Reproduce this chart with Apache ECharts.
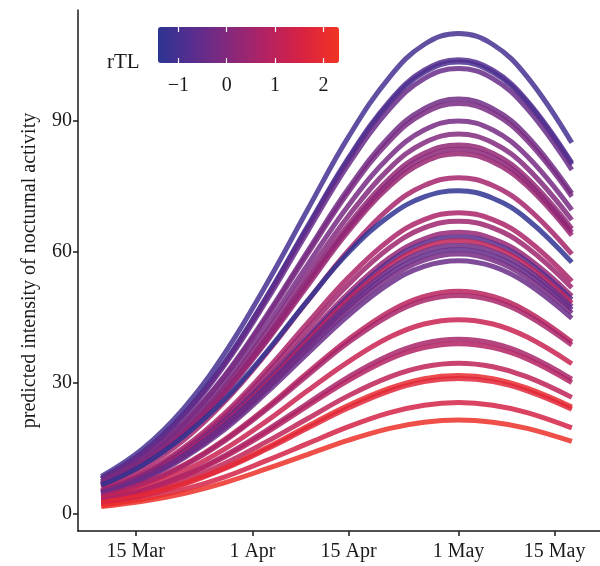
<!DOCTYPE html>
<html>
<head>
<meta charset="utf-8">
<script src="https://cdn.jsdelivr.net/npm/echarts@6/dist/echarts.min.js"></script>
<style>
  html, body { margin: 0; padding: 0; background: #fff; }
  #chart { width: 600px; height: 566px; }
</style>
</head>
<body>
<div id="chart"></div>
<script>
// prediction days (day of year, 10 Mar .. 17 May)
const days = [69, 75, 81, 87, 93, 99, 105, 111, 116, 121, 126, 131, 137.5];

// axis ticks
const tickDays = [74, 91, 105, 121, 135];
const tickLabels = ['15 Mar', '1 Apr', '15 Apr', '1 May', '15 May'];
const yTicks = [0, 30, 60, 90];
const rtlTicks = [-1, 0, 1, 2];

// rTL of each individual (colour)
const rtl = [
    -1.0, -0.75, -0.9, -0.45, -0.3, -0.15, -0.2, 0.0,
    0.25, 0.15, 0.35, 0.55, -1.35, 0.65, 0.45, 0.3,
    -0.65, 1.05, -0.3, -0.5, -0.2, -0.4, 0.95, 0.6,
    1.25, 0.6, 0.8, 1.05, 2.0, 1.8, 1.45, 2.15
];

// predicted intensity of nocturnal activity, one row per individual
const activity = [
    [8.6, 14.9, 24.2, 36.9, 52.5, 69.6, 86.4, 100.1, 107.5, 110, 107.5, 100.1, 85.0],
    [8.1, 14.0, 22.9, 34.8, 49.6, 65.8, 81.6, 94.6, 101.6, 104, 101.6, 94.6, 80.4],
    [8.1, 14.0, 22.8, 34.7, 49.4, 65.5, 81.2, 94.2, 101.1, 103.5, 101.1, 94.2, 80.0],
    [8.0, 13.8, 22.4, 34.2, 48.7, 64.6, 80.1, 92.8, 99.7, 102, 99.7, 92.8, 78.8],
    [7.4, 12.8, 20.9, 31.8, 45.3, 60.1, 74.6, 86.5, 92.8, 95, 92.8, 86.5, 73.4],
    [7.3, 12.7, 20.7, 31.5, 44.8, 59.5, 73.8, 85.5, 91.8, 94, 91.8, 85.5, 72.7],
    [7.0, 12.2, 19.8, 30.2, 42.9, 57.0, 70.7, 81.9, 87.9, 90, 87.9, 81.9, 69.6],
    [6.8, 11.7, 19.1, 29.1, 41.5, 55.1, 68.3, 79.2, 85.0, 87, 85.0, 79.2, 67.3],
    [6.6, 11.4, 18.6, 28.3, 40.3, 53.5, 66.3, 76.9, 82.6, 84.5, 82.6, 76.9, 65.3],
    [6.5, 11.3, 18.4, 28.0, 39.8, 52.9, 65.5, 76.0, 81.6, 83.5, 81.6, 76.0, 64.5],
    [6.4, 11.1, 18.2, 27.6, 39.4, 52.2, 64.8, 75.1, 80.6, 82.5, 80.6, 75.1, 63.8],
    [6.0, 10.4, 16.9, 25.8, 36.7, 48.7, 60.4, 70.1, 75.2, 77, 75.2, 70.1, 59.5],
    [6.6, 11.2, 17.8, 26.3, 37.0, 48.8, 59.9, 68.3, 72.6, 74, 72.3, 67.5, 57.6],
    [5.4, 9.3, 15.2, 23.1, 32.9, 43.7, 54.2, 62.8, 67.4, 69, 67.4, 62.8, 53.3],
    [5.2, 9.0, 14.7, 22.4, 32.0, 42.4, 52.6, 61.0, 65.5, 67, 65.5, 61.0, 51.8],
    [5.0, 8.7, 14.2, 21.6, 30.8, 40.8, 50.6, 58.7, 63.0, 64.5, 63.0, 58.7, 49.9],
    [5.0, 8.6, 14.0, 21.3, 30.3, 40.2, 49.8, 57.8, 62.0, 63.5, 62.0, 57.8, 49.1],
    [4.9, 8.4, 13.8, 20.9, 29.8, 39.6, 49.1, 56.9, 61.1, 62.5, 61.1, 56.9, 48.3],
    [4.8, 8.3, 13.5, 20.6, 29.3, 38.9, 48.3, 56.0, 60.1, 61.5, 60.1, 56.0, 47.5],
    [4.7, 8.2, 13.3, 20.3, 28.9, 38.3, 47.5, 55.1, 59.1, 60.5, 59.1, 55.1, 46.8],
    [4.6, 8.0, 13.1, 19.9, 28.4, 37.7, 46.7, 54.1, 58.1, 59.5, 58.1, 54.1, 46.0],
    [4.5, 7.8, 12.8, 19.4, 27.7, 36.7, 45.5, 52.8, 56.7, 58, 56.7, 52.8, 44.8],
    [4.0, 6.9, 11.2, 17.1, 24.3, 32.3, 40.0, 46.4, 49.8, 51, 49.8, 46.4, 39.4],
    [3.9, 6.8, 11.0, 16.8, 23.9, 31.7, 39.3, 45.5, 48.9, 50, 48.9, 45.5, 38.7],
    [3.5, 6.0, 9.8, 14.9, 21.2, 28.2, 34.9, 40.5, 43.5, 44.5, 43.5, 40.5, 34.4],
    [3.1, 5.4, 8.8, 13.4, 19.1, 25.3, 31.4, 36.4, 39.1, 40, 39.1, 36.4, 30.9],
    [3.0, 5.3, 8.6, 13.1, 18.6, 24.7, 30.6, 35.5, 38.1, 39, 38.1, 35.5, 30.1],
    [2.7, 4.7, 7.6, 11.6, 16.5, 21.8, 27.1, 31.4, 33.7, 34.5, 33.7, 31.4, 26.7],
    [2.5, 4.3, 7.0, 10.6, 15.1, 20.1, 24.9, 28.8, 31.0, 31.7, 31.0, 28.8, 24.5],
    [2.4, 4.2, 6.8, 10.4, 14.8, 19.6, 24.3, 28.2, 30.3, 31, 30.3, 28.2, 24.0],
    [2.0, 3.4, 5.6, 8.5, 12.2, 16.1, 20.0, 23.2, 24.9, 25.5, 24.9, 23.2, 19.7],
    [1.7, 2.9, 4.7, 7.2, 10.3, 13.6, 16.9, 19.6, 21.0, 21.5, 21.0, 19.6, 16.6]
];

// colour scale for rTL
const rtlMin = -1.42, rtlMax = 2.32;
const colorStops = ['#2c3492', '#5a2d8e', '#87287b', '#b42262', '#d92242', '#f13422'];

function hexToRgb(h) {
    return [1, 3, 5].map(i => parseInt(h.substr(i, 2), 16));
}

function rtlColor(v) {
    const t = Math.max(0, Math.min(1, (v - rtlMin) / (rtlMax - rtlMin))) * (colorStops.length - 1);
    const i = Math.min(Math.floor(t), colorStops.length - 2);
    const f = t - i;
    const a = hexToRgb(colorStops[i]), b = hexToRgb(colorStops[i + 1]);
    const c = a.map((x, k) => Math.round(x + (b[k] - x) * f));
    return 'rgb(' + c.join(',') + ')';
}

const font = 'Liberation Serif';
const textColor = '#1a1a1a';

const series = activity.map((vals, i) => ({
    type: 'line',
    xAxisIndex: 0,
    yAxisIndex: 0,
    data: vals.map((v, j) => [days[j], v]),
    smooth: 0.4,
    showSymbol: false,
    silent: true,
    lineStyle: { width: 5, color: rtlColor(rtl[i]), opacity: 0.85, cap: 'butt' }
}));

const chart = echarts.init(document.getElementById('chart'));

chart.setOption({
    animation: false,
    backgroundColor: '#fff',
    title: {
        text: 'rTL',
        left: 107,
        top: 52,
        padding: 0,
        textStyle: { fontFamily: font, fontSize: 21, fontWeight: 'normal', color: textColor }
    },
    grid: [
        { left: 78, right: 0, top: 10, bottom: 35 },
        { left: 158, width: 181, top: 27, height: 36 }
    ],
    visualMap: {
        type: 'continuous',
        orient: 'horizontal',
        seriesIndex: [],
        min: rtlMin,
        max: rtlMax,
        left: 158,
        top: 27,
        padding: 0,
        itemWidth: 36,
        itemHeight: 181,
        calculable: false,
        hoverLink: false,
        text: null,
        showLabel: false,
        inRange: { color: colorStops }
    },
    xAxis: [
        {
            type: 'value',
            gridIndex: 0,
            min: 65.6,
            max: 141.6,
            splitLine: { show: false },
            axisLine: { onZero: false, lineStyle: { color: textColor, width: 1.5 } },
            axisTick: { length: 5, lineStyle: { color: textColor, width: 1.5 }, customValues: tickDays },
            axisLabel: {
                customValues: tickDays,
                margin: 11,
                fontFamily: font,
                fontSize: 20,
                color: textColor,
                formatter: v => tickLabels[tickDays.indexOf(v)]
            }
        },
        {
            type: 'value',
            gridIndex: 1,
            position: 'bottom',
            min: rtlMin,
            max: rtlMax,
            z: 10,
            splitLine: { show: false },
            axisLine: { show: false },
            axisTick: { inside: true, length: 5, lineStyle: { color: '#fff', width: 1.2 }, customValues: rtlTicks },
            axisLabel: {
                customValues: rtlTicks,
                margin: 13,
                fontFamily: font,
                fontSize: 20,
                color: textColor,
                formatter: v => String(v).replace('-', '\u2212')
            }
        },
        {
            type: 'value',
            gridIndex: 1,
            position: 'top',
            min: rtlMin,
            max: rtlMax,
            z: 10,
            splitLine: { show: false },
            axisLine: { show: false },
            axisTick: { inside: true, length: 5, lineStyle: { color: '#fff', width: 1.2 }, customValues: rtlTicks },
            axisLabel: { show: false }
        }
    ],
    yAxis: [
        {
            type: 'value',
            gridIndex: 0,
            min: -3.9,
            max: 115.4,
            name: 'predicted intensity of nocturnal activity',
            nameLocation: 'middle',
            nameGap: 38,
            nameTextStyle: { fontFamily: font, fontSize: 20, color: textColor },
            splitLine: { show: false },
            axisLine: { show: true, onZero: false, lineStyle: { color: textColor, width: 1.5 } },
            axisTick: { show: true, length: 5, lineStyle: { color: textColor, width: 1.5 }, customValues: yTicks },
            axisLabel: {
                customValues: yTicks,
                margin: 6,
                fontFamily: font,
                fontSize: 20,
                color: textColor
            }
        },
        { type: 'value', gridIndex: 1, show: false, min: 0, max: 1 }
    ],
    series: series
});
</script>
</body>
</html>
